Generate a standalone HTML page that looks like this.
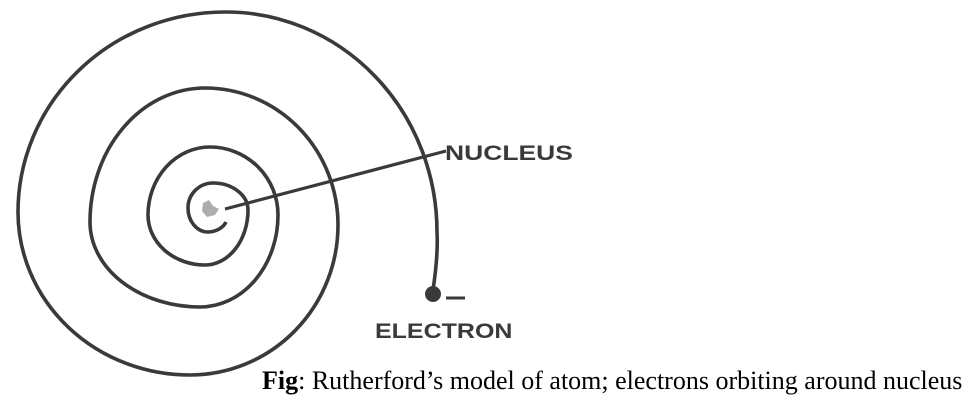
<!DOCTYPE html>
<html><head><style>
html,body{margin:0;padding:0;background:#fff;}
body{width:972px;height:401px;position:relative;overflow:hidden;}
.l{position:absolute;font-family:"Liberation Sans",sans-serif;font-weight:bold;color:#3a3a3a;font-size:21px;line-height:1;transform-origin:left top;}
.cap{position:absolute;left:262px;top:366px;font-family:"Liberation Serif",serif;font-size:26px;color:#000;white-space:nowrap;}
</style></head><body>
<svg width="972" height="401" style="position:absolute;left:0;top:0">
<path d="M433,290 C436,270 438,250 437,232 A211 220 0 0 0 225 12 A207 200 0 0 0 18 212 A172 163 0 0 0 190 375 A148 150 0 0 0 338 225 A133 137 0 0 0 205 88 A115 134 0 0 0 90 222 A110 85 0 0 0 200 307 A78 92 0 0 0 278 215 A68 68 0 0 0 210 147 A62 68 0 0 0 148 215 A57 50 0 0 0 205 265 A43 55 0 0 0 248 210 A35 27 0 0 0 213 183 A25 25 0 0 0 188 208 A20 24 0 0 0 208 232 A20 15 0 0 0 226 222" fill="none" stroke="#3a3a3a" stroke-width="3.6"/>
<line x1="225" y1="209" x2="446" y2="151" stroke="#3a3a3a" stroke-width="3.2"/>
<circle cx="433" cy="294" r="8" fill="#3a3a3a"/>
<line x1="446" y1="298" x2="465" y2="298" stroke="#3a3a3a" stroke-width="3"/>
<path d="M203,203 l6,-3 l4,6 l6,3 l-4,6 l-8,2 l-5,-6z" fill="#777" opacity="0.6"/>
</svg>
<div class="l" style="left:445px;top:143px;transform:scaleX(1.26);">NUCLEUS</div>
<div class="l" style="left:375px;top:321px;transform:scaleX(1.19);">ELECTRON</div>
<div class="cap"><b>Fig</b>: Rutherford’s model of atom; electrons orbiting around nucleus</div>
</body></html>
